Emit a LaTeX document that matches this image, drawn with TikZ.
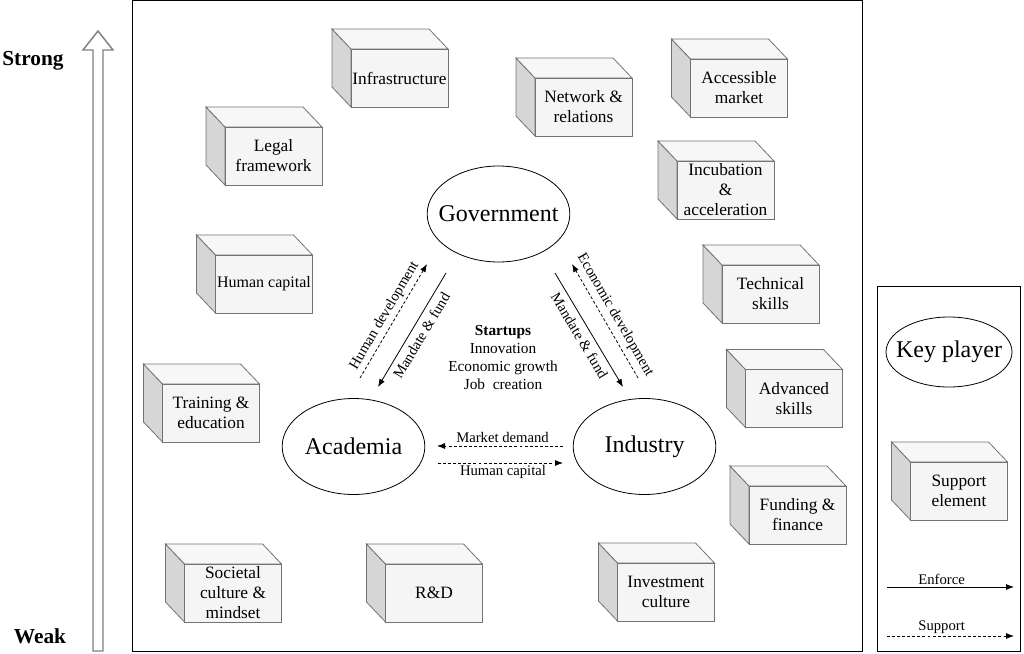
\documentclass[tikz,border=0pt]{standalone}
\usepackage{fontspec}
\setmainfont{Liberation Serif}
\usetikzlibrary{shapes.geometric,arrows.meta}

\tikzset{
    face/.style={draw=black!55, line width=0.6pt},
    cubetext/.style={face, fill=black!4, minimum width=72.75pt, minimum height=43.5pt,
        inner sep=0pt, align=center, font=\fontsize{13}{15}\selectfont},
    player/.style={ellipse, draw, line width=0.6pt, minimum width=107pt, minimum height=72pt,
        inner sep=0pt, font=\fontsize{18}{20}\selectfont},
    enforce/.style={-{Latex[length=6pt,width=4.5pt]}, line width=0.6pt},
    support/.style={enforce, dash pattern=on 2.2pt off 1.6pt},
    lbl/.style={font=\fontsize{11}{13}\selectfont, inner sep=2.5pt},
}

% support element: front face centred at (#2,#3)
\newcommand{\cubebox}[4]{%
    \begin{scope}[shift={(#2,#3)}]
        \filldraw[face, fill=black!16] (-48.5,-29) -- (-67.5,-49) -- (-67.5,9) -- (-48.5,29) -- cycle;
        \filldraw[face, fill=black!3] (-48.5,-29) -- (-67.5,-49) -- (29.5,-49) -- (48.5,-29) -- cycle;
        \node[cubetext] (#1) at (0,0) {#4};
    \end{scope}}

\begin{document}
\begin{tikzpicture}[x=0.75pt, y=-0.75pt]
    \useasboundingbox (0,0) rectangle (1024,653);

    % strength scale
    \draw[draw=black!50, line width=1.1pt, fill=white]
        (93,651) -- (93,50) -- (83,50) -- (98,31) -- (113,50) -- (103,50) -- (103,651) -- cycle;
    \node[font=\fontsize{16}{18}\selectfont\bfseries] (strong) at (33,61) {Strong};
    \node[font=\fontsize{16}{18}\selectfont\bfseries] (weak) at (40,636) {Weak};

    % frames
    \draw[line width=0.75pt] (132,0.6) rectangle (862,651);
    \draw[line width=0.75pt] (877,286) rectangle (1020,651);

    % support elements
    \foreach \nm/\cx/\cy/\txt in {
        infra/399.5/78/{Infrastructure},
        legal/273.5/156/{Legal\\framework},
        humcap/264/284/{\fontsize{12}{14}\selectfont Human capital},
        train/211/413/{Training \&\\education},
        soc/233/593/{\fontsize{13}{13.5}\selectfont Societal\\culture \&\\mindset},
        rnd/434/593/{R\&D},
        invest/666/592/{Investment\\culture},
        fund/797.5/515/{Funding \&\\finance},
        adv/794/398.5/{Advanced\\skills},
        tech/770.5/294/{Technical\\skills},
        incub/725.5/190/{Incubation\\\&\\acceleration},
        market/739/88/{Accessible\\market},
        network/583.5/107/{Network \&\\relations}}
        \cubebox{\nm}{\cx}{\cy}{\txt};

    % key players
    \node[player] (gov) at (498.5,214) {\makebox[0pt]{Government}};
    \node[player] (acad) at (353.5,446.5) {\makebox[0pt]{Academia}};
    \node[player] (ind) at (644.5,446.5) {\makebox[0pt]{Industry}};

    \node[align=center, font=\fontsize{11.5}{13.5}\selectfont] (startups) at (503,357.5)
        {\textbf{Startups}\\Innovation\\Economic growth\\Job\ \ creation};

    % flows
    \coordinate (ga1) at (446,273); \coordinate (ga2) at (378,387);
    \coordinate (ag1) at (360,378); \coordinate (ag2) at (427,264);
    \coordinate (gi1) at (555,273); \coordinate (gi2) at (623,387);
    \coordinate (ig1) at (638,378); \coordinate (ig2) at (572,264);
    \coordinate (ia1) at (563,446); \coordinate (ia2) at (437,446);
    \coordinate (ai1) at (438,463); \coordinate (ai2) at (563,463);

    \draw[enforce] (ga1) -- node[lbl, sloped, below, inner sep=4pt] {Mandate \& fund} (ga2);
    \draw[support] (ag1) -- node[lbl, sloped, above] {Human development} (ag2);
    \draw[enforce] (gi1) -- node[lbl, sloped, below, inner sep=4pt] {Mandate \& fund} (gi2);
    \draw[support] (ig1) -- node[lbl, sloped, above, inner sep=3.5pt] {Economic development} (ig2);
    \draw[support] (ia1) -- node[lbl, above, pos=0.48, inner sep=2pt] {Market demand} (ia2);
    \draw[support] (ai1) -- node[lbl, below, pos=0.52, inner sep=1.5pt] {Human capital} (ai2);

    % legend
    \node[player, minimum width=94.5pt, minimum height=52.5pt] (keyplayer) at (949,352) {\makebox[0pt]{Key player}};
    \cubebox{supel}{959}{491}{Support\\element};
    \coordinate (enf1) at (887,587); \coordinate (enf2) at (1014,587);
    \coordinate (sup1) at (887,636); \coordinate (sup2) at (1014,636);
    \draw[enforce] (enf1) -- node[lbl, above, pos=0.43, inner sep=1.5pt] {Enforce} (enf2);
    \draw[support] (sup1) -- node[lbl, above, pos=0.43, inner sep=1.5pt] {Support} (sup2);
\end{tikzpicture}
\end{document}
